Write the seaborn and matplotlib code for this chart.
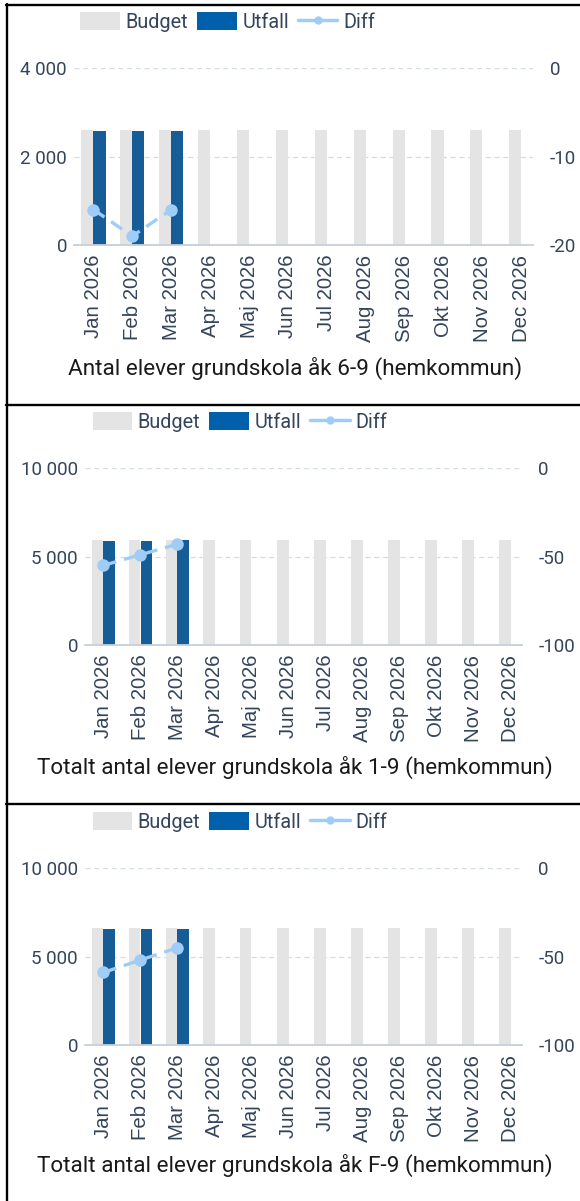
import numpy as np
import pandas as pd
import seaborn as sns
import matplotlib.pyplot as plt
from matplotlib.lines import Line2D
from matplotlib.patches import Patch
from matplotlib.ticker import FuncFormatter

# Data
months = ["Jan 2026", "Feb 2026", "Mar 2026", "Apr 2026", "Maj 2026", "Jun 2026",
          "Jul 2026", "Aug 2026", "Sep 2026", "Okt 2026", "Nov 2026", "Dec 2026"]

budget_69 = [2600, 2600, 2600, 2600, 2600, 2600, 2600, 2600, 2600, 2600, 2600, 2600]
utfall_69 = [2584, 2581, 2584]
diff_69 = [-16, -19, -16]

budget_19 = [5950, 5950, 5950, 5950, 5950, 5945, 5945, 5945, 5945, 5945, 5945, 5945]
utfall_19 = [5895, 5901, 5907]
diff_19 = [-55, -49, -43]

budget_f9 = [6590, 6590, 6590, 6595, 6595, 6600, 6620, 6620, 6620, 6620, 6620, 6620]
utfall_f9 = [6531, 6538, 6545]
diff_f9 = [-59, -52, -45]

titles = ["Antal elever grundskola åk 6-9 (hemkommun)",
          "Totalt antal elever grundskola åk 1-9 (hemkommun)",
          "Totalt antal elever grundskola åk F-9 (hemkommun)"]

# Colors
c_budget = "#e4e4e4"
c_utfall = "#0060ac"
c_diff = "#9fcdf8"
c_tick = "#34445c"
c_grid = "#d3dbe4"
c_axis = "#c5d0db"

sns.set_style("white")
plt.rcParams["font.family"] = ["Roboto", "DejaVu Sans"]

W, H = 580, 1201
fig = plt.figure(figsize=(W / 100, H / 100), dpi=100)


def fmt_thousands(v, pos):
    return f"{v:,.0f}".replace(",", " ")


def fmt_plain(v, pos):
    return f"{v:.0f}"


def panel(budget, utfall, diff, title, box, ylim, yticks, y2lim, y2ticks, leg_xy, title_y):
    left, right, top, bottom = box
    ax = fig.add_axes([left / W, 1 - bottom / H, (right - left) / W, (bottom - top) / H])

    df = pd.DataFrame({
        "month": months * 2,
        "serie": ["Budget"] * len(months) + ["Utfall"] * len(months),
        "value": budget + utfall + [np.nan] * (len(months) - len(utfall)),
    })
    sns.barplot(data=df, x="month", y="value", hue="serie", hue_order=["Budget", "Utfall"],
                palette={"Budget": c_budget, "Utfall": c_utfall}, width=0.62,
                linewidth=0, legend=False, ax=ax)

    ax2 = ax.twinx()
    sns.lineplot(x=np.arange(len(diff)), y=diff, color=c_diff, lw=2.4,
                 linestyle=(0, (4, 2.4)), marker="o", markersize=9,
                 markeredgewidth=0, ax=ax2)

    ax.set_xlim(-0.5, 11.3)
    ax.set_ylim(*ylim)
    ax.set_yticks(yticks)
    ax2.set_ylim(*y2lim)
    ax2.set_yticks(y2ticks)
    ax.yaxis.set_major_formatter(FuncFormatter(fmt_thousands))
    ax2.yaxis.set_major_formatter(FuncFormatter(fmt_plain))

    ax.set_xlabel("")
    ax.set_ylabel("")
    ax2.set_ylabel("")
    ax.set_xticks(range(len(months)))
    ax.set_xticklabels(months, rotation=90, fontsize=14.7, color=c_tick,
                       family=["Liberation Sans", "DejaVu Sans"])
    ax.tick_params(axis="x", length=0, pad=7)
    ax.tick_params(axis="y", length=0, pad=5, labelsize=13.5, labelcolor=c_tick)
    ax2.tick_params(axis="y", length=0, pad=12, labelsize=13.5, labelcolor=c_tick)

    ax.set_axisbelow(True)
    ax.yaxis.grid(True, linestyle=(0, (4, 3)), color=c_grid, linewidth=0.9)
    for a in (ax, ax2):
        for s in ("top", "left", "right"):
            a.spines[s].set_visible(False)
        a.spines["bottom"].set_color(c_axis)
        a.spines["bottom"].set_linewidth(1.3)
    ax2.spines["bottom"].set_visible(False)

    handles = [Patch(facecolor=c_budget, edgecolor="none"),
               Patch(facecolor=c_utfall, edgecolor="none"),
               Line2D([], [], color=c_diff, lw=2.5, marker="o", markersize=5)]
    fig.legend(handles, ["Budget", "Utfall", "Diff"], loc="center left",
               bbox_to_anchor=(leg_xy[0] / W, 1 - leg_xy[1] / H), ncol=3, frameon=False,
               fontsize=14.3, handlelength=2.0, handleheight=1.05, handletextpad=0.28,
               columnspacing=0.45, borderpad=0, borderaxespad=0, labelcolor=c_tick)

    fig.text(295 / W, 1 - title_y / H, title, ha="center", va="center",
             fontsize=16.2, color="#1a1a1a")


panel(budget_69, utfall_69, diff_69, titles[0], (74, 533, 68, 245),
      (0, 4000), [0, 2000, 4000], (-20, 0), [-20, -10, 0], (80, 22), 368)
panel(budget_19, utfall_19, diff_19, titles[1], (85, 521.6, 468, 645),
      (0, 10000), [0, 5000, 10000], (-100, 0), [-100, -50, 0], (92.5, 422), 767)
panel(budget_f9, utfall_f9, diff_f9, titles[2], (85, 521.6, 868, 1045),
      (0, 10000), [0, 5000, 10000], (-100, 0), [-100, -50, 0], (92.5, 822), 1165)

# panel borders
lw = 1.7
fig.add_artist(Line2D([7 / W, 7 / W], [0, 1 - 4 / H], color="black", lw=lw))
for y in (5, 405, 804):
    fig.add_artist(Line2D([6 / W, 1], [1 - y / H, 1 - y / H], color="black", lw=lw))

fig.savefig("out.png", dpi=100)
